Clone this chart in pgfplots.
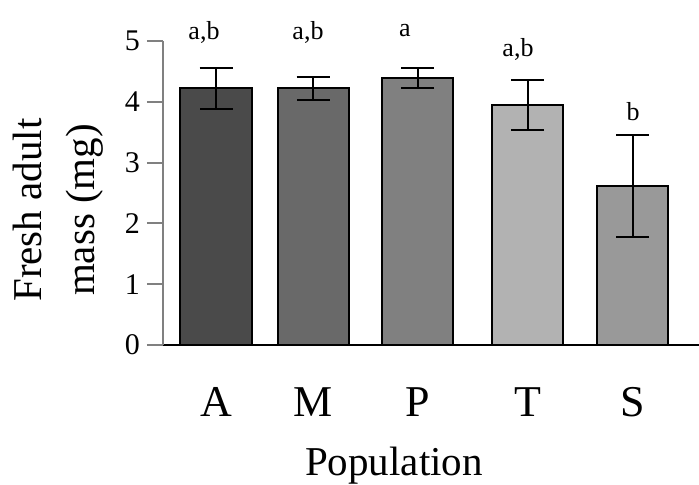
\documentclass[border=0pt]{standalone}
\usepackage{fontspec}
\setmainfont{Liberation Serif}
\usepackage{pgfplots}
\pgfplotsset{compat=1.18}

\definecolor{cA}{gray}{0.29}
\definecolor{cM}{gray}{0.41}
\definecolor{cP}{gray}{0.50}
\definecolor{cT}{gray}{0.70}
\definecolor{cS}{gray}{0.60}

\pgfplotsset{
  massbar/.style={ybar, bar width=35.5pt, bar shift=0pt, draw=black, line width=1pt,
    error bars/y dir=both, error bars/y explicit,
    error bars/error bar style={black, line width=1pt},
    error bars/error mark options={rotate=90, mark size=8.25pt, line width=1pt, black}},
}
\tikzset{letter/.style={font=\fontsize{13}{15}\selectfont, anchor=base}}

\begin{document}
\begin{tikzpicture}
\useasboundingbox (-81.5pt,-70pt) rectangle (268pt,172.5pt);
\begin{axis}[
  scale only axis,
  width=268pt, height=152pt,
  xmin=163, xmax=699,
  ymin=0, ymax=5,
  clip=false,
  axis x line=bottom,
  axis y line=left,
  x axis line style={-, black, line width=1pt},
  y axis line style={-, gray, line width=1pt},
  xtick={216,313,417.5,527.5,632.5},
  xticklabels={A,M,P,T,S},
  xtick style={draw=none},
  ytick={0,1,2,3,4,5},
  ytick style={gray, line width=1pt},
  tick align=outside,
  major tick length=8pt,
  xticklabel style={font=\fontsize{22}{26}\selectfont, anchor=base, yshift=-28pt},
  yticklabel style={font=\fontsize{15}{18}\selectfont},
  /pgf/number format/assume math mode=true,
  xlabel={Population},
  xlabel style={font=\fontsize{20.5}{25}\selectfont, at={(rel axis cs:0.431,-0.428)}, anchor=base},
  ylabel={Fresh adult\\mass (mg)},
  ylabel style={font=\fontsize{20.5}{26.5}\selectfont, align=center, at={(rel axis cs:-0.195,0.444)}, anchor=center},
]
\addplot[massbar, fill=cA] coordinates {(216,4.22) +- (0,0.34)};
\addplot[massbar, fill=cM] coordinates {(313,4.22) +- (0,0.19)};
\addplot[massbar, fill=cP] coordinates {(417.5,4.39) +- (0,0.17)};
\addplot[massbar, fill=cT] coordinates {(527.5,3.95) +- (0,0.41)};
\addplot[massbar, fill=cS] coordinates {(632.5,2.62) +- (0,0.84)};

\node[letter] at (axis cs:204,5.02) {a,b};
\node[letter] at (axis cs:308,5.02) {a,b};
\node[letter] at (axis cs:405,5.07) {a};
\node[letter] at (axis cs:518,4.74) {a,b};
\node[letter] at (axis cs:633,3.70) {b};
\end{axis}
\end{tikzpicture}
\end{document}
